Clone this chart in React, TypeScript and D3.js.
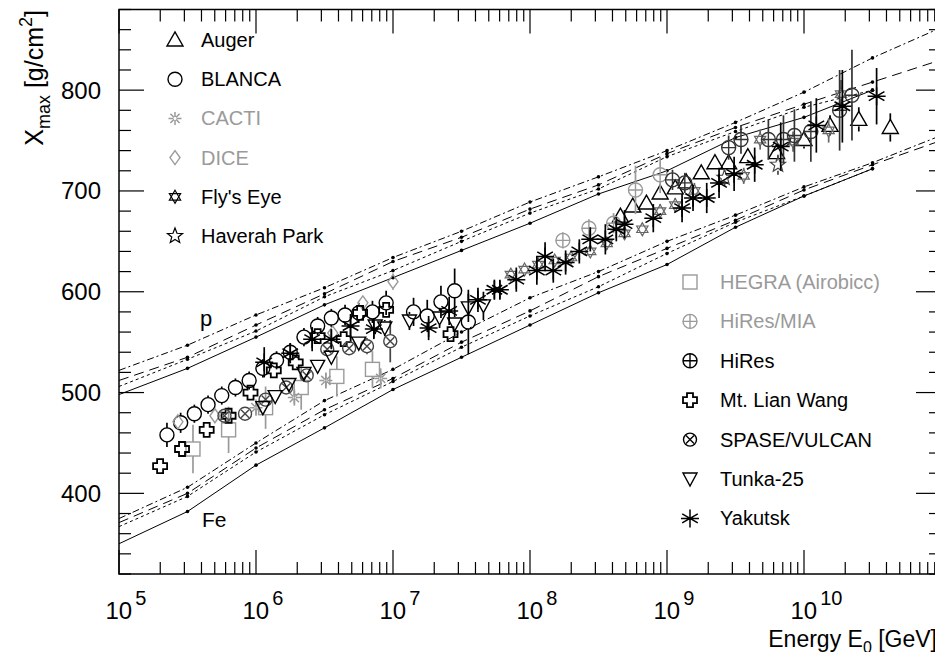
import React from 'react';
import * as d3 from 'd3';

const WIDTH = 943;
const HEIGHT = 660;
const frame = { left: 119, right: 941, top: 9.5, bottom: 574 };
const FONT = '"Liberation Sans", Arial, Helvetica, sans-serif';

// lg(E/GeV) grid of the model predictions
const modelLg = [5, 5.5, 6, 6.5, 7, 7.5, 8, 8.5, 9, 9.5, 10, 10.5, 11];
const pDashDot = [522, 547, 577, 604, 634, 660, 689, 714, 740, 768, 798, 832, 862];
const pDashed = [512, 535, 567, 598, 630, 654, 682, 706, 737, 763, 786, 808, 830];
const pDotted = [506, 533, 561, 595, 621, 650, 678, 702, 734, 759, 783, 800];
const pSolid = [498, 524, 555, 587, 614, 641, 668, 697, 720, 753, 773, 800];
const feDashDot = [375, 406, 450, 492, 523, 560, 594, 620, 650, 676, 704, 728, 755];
const feDashed = [371, 400, 445, 483, 514, 550, 581, 615, 643, 671, 701, 726, 750];
const feDotted = [367, 397, 441, 478, 511, 545, 576, 605, 638, 669, 695, 722];
const feSolid = [350, 382, 428, 465, 503, 535, 567, 599, 627, 664, 695, 722];

// measurements: lg(E/GeV), <Xmax> and error in g/cm^2
const augerLg = [8.66, 8.75, 8.85, 8.95, 9.06, 9.14, 9.25, 9.35, 9.45, 9.59, 9.8, 10.0, 10.19, 10.4, 10.63];
const augerXmax = [675, 685, 688, 698, 703, 709, 718, 728, 728, 734, 738, 751, 765, 771, 763];
const augerErr = [5, 5, 5, 5, 5, 6, 6, 6, 7, 7, 8, 9, 10, 12, 14];

const blancaLg = [5.35, 5.45, 5.55, 5.65, 5.75, 5.85, 5.95, 6.05, 6.15, 6.25, 6.35, 6.45, 6.55, 6.65, 6.75, 6.85, 6.95, 7.15, 7.25, 7.35, 7.45, 7.55];
const blancaXmax = [458, 470, 479, 488, 497, 505, 512, 524, 532, 540, 555, 566, 574, 577, 579, 580, 589, 580, 576, 590, 601, 570];
const blancaErr = [12, 10, 9, 9, 9, 9, 9, 9, 9, 9, 9, 9, 9, 10, 10, 11, 12, 14, 16, 16, 22, 32];

const cactiLg = [6.0, 6.28, 6.51, 6.91];
const cactiXmax = [485, 495, 512, 514];
const cactiErr = [8, 8, 8, 10];

const diceLg = [5.43, 5.7, 6.56, 6.78, 7.0];
const diceXmax = [471, 477, 559, 589, 610];
const diceErr = [5, 5, 6, 6, 8];

const flysEyeLg = [7.86, 7.96, 8.06, 8.18, 8.3, 8.44, 8.56, 8.69, 8.82, 8.95, 9.06, 9.2, 9.56, 9.68, 9.92, 10.18, 10.27];
const flysEyeXmax = [617, 622, 627, 631, 634, 640, 648, 658, 662, 680, 686, 700, 715, 751, 749, 760, 796];
const flysEyeErr = [5, 5, 5, 5, 5, 5, 6, 6, 6, 7, 7, 8, 8, 10, 10, 12, 14];

const haverahLg = [9.42, 9.81];
const haverahXmax = [713, 726];
const haverahErr = [8, 10];

const hegraLg = [5.54, 5.8, 6.07, 6.33, 6.59, 6.85];
const hegraXmax = [444, 463, 485, 505, 516, 523];
const hegraErr = [24, 23, 21, 22, 20, 18];

const hiresMiaLg = [8.24, 8.43, 8.61, 8.77, 8.95];
const hiresMiaXmax = [651, 663, 668, 701, 716];
const hiresMiaErr = [8, 9, 10, 24, 18];

const hiresLg = [9.04, 9.13, 9.45, 9.54, 9.74, 9.85, 9.93, 10.05, 10.26, 10.35];
const hiresXmax = [711, 708, 743, 751, 751, 751, 755, 759, 780, 795];
const hiresErr = [10, 10, 12, 14, 20, 24, 26, 30, 40, 45];

const lianWangLg = [5.3, 5.46, 5.64, 5.8, 5.96, 6.13, 6.29, 6.45, 6.64, 6.76, 6.95, 7.42];
const lianWangXmax = [427, 444, 463, 477, 500, 522, 530, 556, 553, 579, 582, 558];
const lianWangErr = [4, 4, 4, 4, 4, 5, 5, 5, 5, 6, 6, 7];

const spaseLg = [5.77, 5.92, 6.07, 6.22, 6.37, 6.52, 6.68, 6.81, 6.98];
const spaseXmax = [477, 479, 493, 505, 517, 543, 544, 546, 551];
const spaseErr = [4, 4, 5, 5, 5, 6, 7, 8, 21];

const tunkaLg = [6.05, 6.14, 6.24, 6.35, 6.45, 6.55, 6.75, 6.87, 6.94, 7.12, 7.34, 7.45, 7.55, 7.66];
const tunkaXmax = [485, 496, 508, 519, 526, 535, 549, 566, 564, 571, 574, 568, 584, 586];
const tunkaErr = [6, 6, 6, 6, 7, 7, 7, 8, 8, 9, 10, 12, 14, 14];

const yakutskLg = [6.06, 6.25, 6.41, 6.55, 6.69, 6.86, 7.26, 7.41, 7.62, 7.74, 7.78, 7.9, 8.05, 8.11, 8.17, 8.26, 8.36, 8.44, 8.55, 8.63, 8.69, 8.9, 9.11, 9.19, 9.29, 9.38, 9.49, 9.64, 9.83, 10.09, 10.28, 10.53];
const yakutskXmax = [530, 539, 553, 553, 566, 563, 564, 581, 592, 602, 602, 612, 621, 635, 621, 629, 640, 652, 652, 662, 667, 673, 683, 693, 693, 708, 717, 726, 744, 765, 784, 794];
const yakutskErr = [15, 10, 12, 10, 12, 10, 12, 14, 12, 10, 10, 12, 14, 14, 12, 12, 12, 12, 15, 12, 14, 14, 14, 13, 15, 15, 17, 17, 24, 27, 36, 28];

const BLACK = '#000';
const GRAY = '#9a9a9a';

const series = [
  { name: 'Auger', lg: augerLg, xmax: augerXmax, err: augerErr, kind: 'triUp', color: BLACK, legendColor: BLACK },
  { name: 'BLANCA', lg: blancaLg, xmax: blancaXmax, err: blancaErr, kind: 'circle', color: BLACK, legendColor: BLACK },
  { name: 'CACTI', lg: cactiLg, xmax: cactiXmax, err: cactiErr, kind: 'cacti', color: GRAY, legendColor: GRAY },
  { name: 'DICE', lg: diceLg, xmax: diceXmax, err: diceErr, kind: 'diamond', color: GRAY, legendColor: GRAY },
  { name: "Fly's Eye", lg: flysEyeLg, xmax: flysEyeXmax, err: flysEyeErr, kind: 'david', color: '#666', legendColor: BLACK },
  { name: 'Haverah Park', lg: haverahLg, xmax: haverahXmax, err: haverahErr, kind: 'star5', color: '#444', legendColor: BLACK },
  { name: 'HEGRA (Airobicc)', lg: hegraLg, xmax: hegraXmax, err: hegraErr, kind: 'square', color: GRAY, legendColor: GRAY },
  { name: 'HiRes/MIA', lg: hiresMiaLg, xmax: hiresMiaXmax, err: hiresMiaErr, kind: 'circlePlus', color: GRAY, legendColor: GRAY },
  { name: 'HiRes', lg: hiresLg, xmax: hiresXmax, err: hiresErr, kind: 'circlePlus', color: '#333', legendColor: BLACK },
  { name: 'Mt. Lian Wang', lg: lianWangLg, xmax: lianWangXmax, err: lianWangErr, kind: 'cross', color: BLACK, legendColor: BLACK },
  { name: 'SPASE/VULCAN', lg: spaseLg, xmax: spaseXmax, err: spaseErr, kind: 'circleX', color: '#444', legendColor: BLACK },
  { name: 'Tunka-25', lg: tunkaLg, xmax: tunkaXmax, err: tunkaErr, kind: 'triDown', color: BLACK, legendColor: BLACK },
  { name: 'Yakutsk', lg: yakutskLg, xmax: yakutskXmax, err: yakutskErr, kind: 'asterisk', color: BLACK, legendColor: BLACK },
];

const models = [
  { values: pDashDot, dash: '7 3 2 3' },
  { values: pDashed, dash: '10 6' },
  { values: pDotted, dash: '3 3' },
  { values: pSolid, dash: null },
  { values: feDashDot, dash: '7 3 2 3' },
  { values: feDashed, dash: '10 6' },
  { values: feDotted, dash: '3 3' },
  { values: feSolid, dash: null },
];

// half size of the open part of a marker, error bars stop there
const gap = { triUp: 7, circle: 7, cacti: 0, diamond: 7, david: 5, star5: 6, square: 7, circlePlus: 7, cross: 7, circleX: 7, triDown: 7, asterisk: 0 };

function Marker({ kind, x, y, color }) {
  const st = { fill: 'none', stroke: color, strokeWidth: 1.4 };
  const spokes = (r, r0, angles) =>
    angles.map((a) => {
      const c = Math.cos(a), s = Math.sin(a);
      return `M${x - r * c},${y - r * s}L${x - r0 * c},${y - r0 * s}M${x + r0 * c},${y + r0 * s}L${x + r * c},${y + r * s}`;
    }).join('');
  switch (kind) {
    case 'triUp':
      return <path d={`M${x - 8},${y + 6}L${x + 8},${y + 6}L${x},${y - 8}Z`} {...st} />;
    case 'triDown':
      return <path d={`M${x - 7},${y - 6}L${x + 7},${y - 6}L${x},${y + 7}Z`} {...st} />;
    case 'circle':
      return <circle cx={x} cy={y} r={7} {...st} />;
    case 'cacti':
      return <path d={spokes(6.5, 1.5, [0, Math.PI / 4, Math.PI / 2, (3 * Math.PI) / 4])} {...st} strokeWidth={1.5} />;
    case 'asterisk':
      return <path d={spokes(9, 0, [Math.PI / 2, Math.PI / 6, (5 * Math.PI) / 6, 0])} {...st} strokeWidth={1.5} />;
    case 'diamond':
      return <path d={`M${x},${y - 7}L${x + 5},${y}L${x},${y + 7}L${x - 5},${y}Z`} {...st} />;
    case 'square':
      return <rect x={x - 7} y={y - 7} width={14} height={14} {...st} />;
    case 'circlePlus':
      return (
        <g {...st}>
          <circle cx={x} cy={y} r={7} />
          <path d={`M${x - 7},${y}L${x + 7},${y}M${x},${y - 7}L${x},${y + 7}`} />
        </g>
      );
    case 'circleX':
      return (
        <g {...st}>
          <circle cx={x} cy={y} r={6.5} />
          <path d={`M${x - 4},${y - 4}L${x + 4},${y + 4}M${x - 4},${y + 4}L${x + 4},${y - 4}`} />
        </g>
      );
    case 'cross': {
      const a = 3, b = 7;
      const d = `M${x - a},${y - b}H${x + a}V${y - a}H${x + b}V${y + a}H${x + a}V${y + b}H${x - a}V${y + a}H${x - b}V${y - a}H${x - a}Z`;
      return <path d={d} {...st} strokeWidth={1.8} />;
    }
    case 'david': {
      const r = 6.5;
      const tri = (off) =>
        [0, 1, 2].map((i) => {
          const a = off + (i * 2 * Math.PI) / 3;
          return `${i ? 'L' : 'M'}${x + r * Math.cos(a)},${y + r * Math.sin(a)}`;
        }).join('') + 'Z';
      return <path d={tri(-Math.PI / 2) + tri(Math.PI / 2)} {...st} strokeWidth={1.2} />;
    }
    case 'star5': {
      const pts = d3.range(10).map((i) => {
        const rr = i % 2 ? 3.4 : 8;
        const a = -Math.PI / 2 + (i * Math.PI) / 5;
        return [x + rr * Math.cos(a), y + rr * Math.sin(a)];
      });
      return <path d={'M' + pts.map((p) => p.join(',')).join('L') + 'Z'} {...st} strokeWidth={1.2} />;
    }
    default:
      return null;
  }
}

export default function App() {
  const xScale = d3.scaleLog().domain([1e5, 1e11]).range([frame.left, frame.right]);
  const yScale = d3.scaleLinear().domain([320, 880]).range([frame.bottom, frame.top]);
  const px = (lg) => xScale(Math.pow(10, lg));

  const xTicks = xScale.ticks();
  const yTicks = d3.range(320, 881, 20);
  const decades = [5, 6, 7, 8, 9, 10];

  const line = d3.line().x((d) => d[0]).y((d) => d[1]);

  const leftLegend = series.slice(0, 6);
  const rightLegend = series.slice(6);

  return (
    <svg width={WIDTH} height={HEIGHT} style={{ display: 'block', margin: '-8px', fontFamily: FONT }}>
      <rect width={WIDTH} height={HEIGHT} fill="#fff" />

      {/* model lines */}
      {models.map((m, i) => {
        const pts = m.values.map((v, j) => [px(modelLg[j]), yScale(v)]);
        return (
          <g key={'m' + i}>
            <path d={line(pts)} fill="none" stroke="#000" strokeWidth={1} strokeDasharray={m.dash || undefined} />
            {pts.slice(1, 12).map((p, j) => (
              <circle key={j} cx={p[0]} cy={p[1]} r={1.8} fill="#000" />
            ))}
          </g>
        );
      })}

      <text x={200} y={326} fontSize={22}>p</text>
      <text x={202} y={527} fontSize={21}>Fe</text>

      {/* data */}
      {series.map((s) => (
        <g key={s.name}>
          {s.lg.map((lg, i) => {
            const x = px(lg);
            const y = yScale(s.xmax[i]);
            const y1 = yScale(s.xmax[i] + s.err[i]);
            const y2 = yScale(s.xmax[i] - s.err[i]);
            const g = gap[s.kind];
            return (
              <g key={i}>
                {y1 < y - g && <line x1={x} x2={x} y1={y1} y2={y - g} stroke={s.color} strokeWidth={1.7} />}
                {y2 > y + g && <line x1={x} x2={x} y1={y + g} y2={y2} stroke={s.color} strokeWidth={1.7} />}
                <Marker kind={s.kind} x={x} y={y} color={s.color} />
              </g>
            );
          })}
        </g>
      ))}

      {/* legends */}
      {leftLegend.map((s, i) => (
        <g key={'l' + s.name}>
          <Marker kind={s.kind} x={175} y={40 + i * 39.2} color={s.legendColor} />
          <text x={201} y={47 + i * 39.2} fontSize={20} fill={s.legendColor}>{s.name}</text>
        </g>
      ))}
      {rightLegend.map((s, i) => (
        <g key={'r' + s.name}>
          <Marker kind={s.kind} x={690} y={282 + i * 39.4} color={s.legendColor} />
          <text x={720} y={289 + i * 39.4} fontSize={20} fill={s.legendColor}>{s.name}</text>
        </g>
      ))}

      {/* frame and ticks */}
      <rect x={frame.left} y={frame.top} width={frame.right - frame.left} height={frame.bottom - frame.top}
        fill="none" stroke="#000" strokeWidth={1.5} />
      {xTicks.map((t, i) => {
        const x = xScale(t);
        const major = Math.abs(Math.log10(t) - Math.round(Math.log10(t))) < 1e-6;
        const len = major ? 24 : 12;
        return (
          <g key={'xt' + i} stroke="#000" strokeWidth={1.2}>
            <line x1={x} x2={x} y1={frame.bottom} y2={frame.bottom - len} />
            <line x1={x} x2={x} y1={frame.top} y2={frame.top + len} />
          </g>
        );
      })}
      {yTicks.map((t) => {
        const y = yScale(t);
        const len = t % 100 === 0 ? 25 : 12;
        return (
          <g key={'yt' + t} stroke="#000" strokeWidth={1.2}>
            <line x1={frame.left} x2={frame.left + len} y1={y} y2={y} />
            <line x1={frame.right} x2={frame.right - len} y1={y} y2={y} />
          </g>
        );
      })}

      {/* tick labels */}
      {yTicks.filter((t) => t % 100 === 0).map((t) => (
        <text key={'yl' + t} x={101} y={yScale(t) + 8.5} fontSize={24} textAnchor="end">{t}</text>
      ))}
      {decades.map((n) => (
        <text key={'xl' + n} x={xScale(Math.pow(10, n)) - 13.5} y={619} fontSize={24}>
          10<tspan dx={3} dy={-14} fontSize={20}>{n}</tspan>
        </text>
      ))}

      {/* axis titles */}
      <text x={937} y={647} fontSize={23} textAnchor="end">
        Energy E<tspan dy={6} fontSize={16}>0</tspan><tspan dy={-6}> [GeV]</tspan>
      </text>
      <text transform="translate(43,10) rotate(-90)" fontSize={25} textAnchor="end">
        X<tspan dy={7} fontSize={18}>max</tspan><tspan dy={-7}> [g/cm</tspan><tspan dy={-11} fontSize={18}>2</tspan><tspan dy={11}>]</tspan>
      </text>
    </svg>
  );
}
